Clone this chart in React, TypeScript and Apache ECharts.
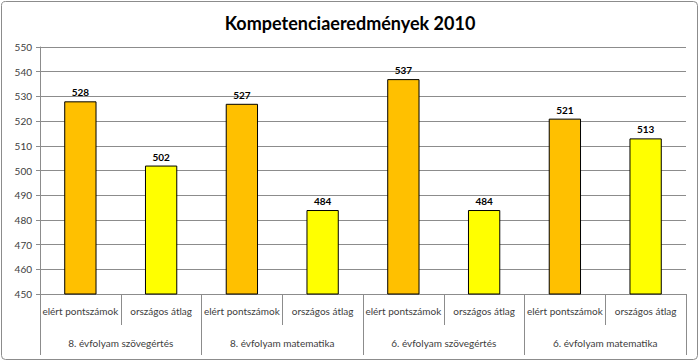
import React, { useEffect, useRef } from "react";
import * as echarts from "echarts";

const title = "Kompetenciaeredmények 2010";
const subCategories = [
  "elért pontszámok", "országos átlag",
  "elért pontszámok", "országos átlag",
  "elért pontszámok", "országos átlag",
  "elért pontszámok", "országos átlag",
];
const groups = [
  "8. évfolyam szövegértés",
  "8. évfolyam matematika",
  "6. évfolyam szövegértés",
  "6. évfolyam matematika",
];
const values = [528, 502, 527, 484, 537, 484, 521, 513];
const barColors = ["#FFC000", "#FFFF00"];

export default function App() {
  const ref = useRef<HTMLDivElement>(null);
  useEffect(() => {
    if (!ref.current) return;
    const chart = echarts.init(ref.current, null, { renderer: "svg" });
    const font = "Lato, 'Noto Sans', sans-serif";
    chart.setOption({
      animation: false,
      textStyle: { fontFamily: font },
      title: {
        text: title,
        left: "center",
        top: 9,
        textStyle: { fontSize: 18, fontWeight: "bold", color: "#000", fontFamily: font },
      },
      graphic: [
        {
          type: "rect",
          shape: { x: 1.5, y: 1.5, width: 696, height: 358, r: 4 },
          style: { fill: "none", stroke: "#8c8c8c", lineWidth: 1 },
          silent: true,
        },
      ],
      grid: { left: 40, right: 14, top: 47, bottom: 68, containLabel: false },
      xAxis: [
        {
          type: "category",
          data: subCategories,
          position: "bottom",
          axisLine: { show: true, lineStyle: { color: "#8c8c8c" } },
          axisTick: { show: true, alignWithLabel: false, length: 31, lineStyle: { color: "#8c8c8c" } },
          axisLabel: { interval: 0, fontSize: 10, color: "#404040", margin: 12 },
        },
        {
          type: "category",
          data: groups,
          position: "bottom",
          offset: 31,
          axisLine: { show: false },
          axisTick: { show: true, length: 30, lineStyle: { color: "#8c8c8c" } },
          axisLabel: { interval: 0, fontSize: 10, color: "#404040", margin: 13 },
        },
      ],
      yAxis: {
        type: "value",
        min: 450,
        max: 550,
        interval: 10,
        axisLine: { show: true, lineStyle: { color: "#8c8c8c" } },
        axisTick: { show: true, length: 4, lineStyle: { color: "#8c8c8c" } },
        axisLabel: { fontSize: 10, color: "#404040", margin: 8 },
        splitLine: { show: true, lineStyle: { color: "#8c8c8c" } },
      },
      series: [
        {
          type: "bar",
          xAxisIndex: 0,
          barWidth: "40%",
          data: values.map((v, i) => ({
            value: v,
            itemStyle: { color: barColors[i % 2], borderColor: "#000", borderWidth: 1 },
          })),
          label: {
            show: true,
            position: "top",
            distance: 4,
            fontSize: 10,
            fontWeight: "bold",
            color: "#000",
          },
        },
      ],
    });
    return () => chart.dispose();
  }, []);
  return (
    <div
      ref={ref}
      style={{ position: "fixed", left: 0, top: 0, width: 700, height: 362, background: "#fff" }}
    />
  );
}
